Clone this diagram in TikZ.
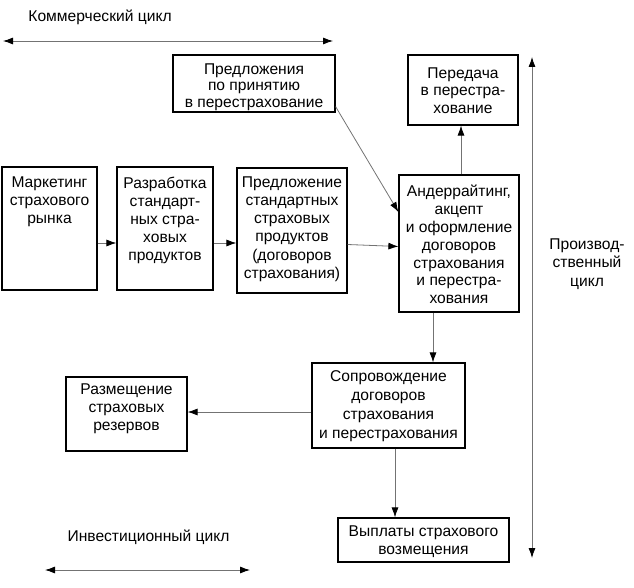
\documentclass[tikz,border=0pt]{standalone}
\usepackage{fontspec}
\setmainfont{Liberation Sans}
\usetikzlibrary{arrows.meta}
\begin{document}
\begin{tikzpicture}[x=1pt,y=-1pt,
  box/.style={draw=black, line width=1.2pt, inner sep=0pt, fill=none},
  txt/.style={align=center, inner sep=0pt, font=\fontsize{15.6}{18.2}\selectfont},
  tight/.style={font=\fontsize{15.6}{16.6}\selectfont},
  arr/.style={draw=black!55, line width=0.8pt, -{Latex[length=10pt,width=7pt,color=black]}},
  darr/.style={draw=black!55, line width=0.8pt, {Latex[length=10pt,width=7pt,color=black]}-{Latex[length=10pt,width=7pt,color=black]}}]
\useasboundingbox (0,0) rectangle (634,588);

% boxes
\node[box, minimum width=162pt, minimum height=57pt] (offer) at (254,83.5) {};
\node[txt, tight] (offert) at ([yshift=-3.5pt]offer.center) {Предложения\\по принятию\\в перестрахование};
\node[box, minimum width=110pt, minimum height=70pt] (transfer) at (463,90) {};
\node[txt, font=\fontsize{15.6}{17.5}\selectfont] (transfert) at ([yshift=-0.5pt]transfer.center) {Передача\\в перестра-\\хование};

\node[box, minimum width=95pt, minimum height=123pt] (mark) at (49.5,228.5) {};
\node[txt, anchor=north] (markt) at ([yshift=-10pt]mark.north) {Маркетинг\\страхового\\рынка};
\node[box, minimum width=96pt, minimum height=123pt] (razr) at (165,228.5) {};
\node[txt, anchor=north] (razrt) at ([yshift=-10pt]razr.north) {Разработка\\стандарт-\\ных стра-\\ховых\\продуктов};
\node[box, minimum width=110pt, minimum height=125pt] (pred) at (292,230.5) {};
\node[txt, anchor=north] (predt) at ([yshift=-9pt]pred.north) {Предложение\\стандартных\\страховых\\продуктов\\(договоров\\страхования)};
\node[box, minimum width=120pt, minimum height=137pt] (under) at (459,243.5) {};
\node[txt, font=\fontsize{15.6}{17.8}\selectfont] (undert) at ([yshift=-1pt]under.center) {Андеррайтинг,\\акцепт\\и оформление\\договоров\\страхования\\и перестра-\\хования};

\node[box, minimum width=153pt, minimum height=85pt] (sopr) at (388.5,405.5) {};
\node[txt, font=\fontsize{15.6}{18.8}\selectfont] (soprt) at ([yshift=-0.5pt]sopr.center) {Сопровождение\\договоров\\страхования\\и перестрахования};
\node[box, minimum width=121pt, minimum height=74pt] (razm) at (126.5,414) {};
\node[txt] (razmt) at ([yshift=5pt]razm.center) {Размещение\\страховых\\резервов};
\node[box, minimum width=171pt, minimum height=44pt] (vypl) at (423.5,540) {};
\node[txt] (vyplt) at ([yshift=-2pt]vypl.center) {Выплаты страхового\\возмещения};

% cycle labels
\node[txt] (comm) at (100,17) {Коммерческий цикл};
\node[txt] (inv) at (148.5,537) {Инвестиционный цикл};
\node[txt] (prod) at (587,264) {Производ-\\ственный\\цикл};

% cycle arrows
\coordinate (c1) at (3,41);
\coordinate (c2) at (333,41);
\coordinate (i1) at (45,570);
\coordinate (i2) at (250,570);
\coordinate (p1) at (532,57);
\coordinate (p2) at (532,558);
\draw[darr] (c1) -- (c2);
\draw[darr] (i1) -- (i2);
\draw[darr] (p1) -- (p2);

% connectors
\draw[arr] ([yshift=-14.5pt]mark.east) -- ([yshift=-14.5pt]razr.west);
\draw[arr] ([yshift=-14.5pt]razr.east) -- ([yshift=-12.5pt]pred.west);
\draw[arr] ([yshift=-14pt]pred.east) -- ([yshift=-3pt]under.west);
\draw[arr] ([yshift=6pt]offer.south east) -- ([yshift=31.5pt]under.west);
\draw[arr] ([xshift=2pt]under.north) -- ([xshift=-2pt]transfer.south);
\coordinate (u1) at ([xshift=-26pt]under.south);
\draw[arr] (u1) -- (u1 |- sopr.north);
\coordinate (s1) at ([yshift=-6.5pt]sopr.west);
\draw[arr] (s1) -- (s1 -| razm.east);
\coordinate (s2) at ([xshift=6.5pt]sopr.south);
\draw[arr] (s2) -- (s2 |- vypl.north);
\end{tikzpicture}
\end{document}
